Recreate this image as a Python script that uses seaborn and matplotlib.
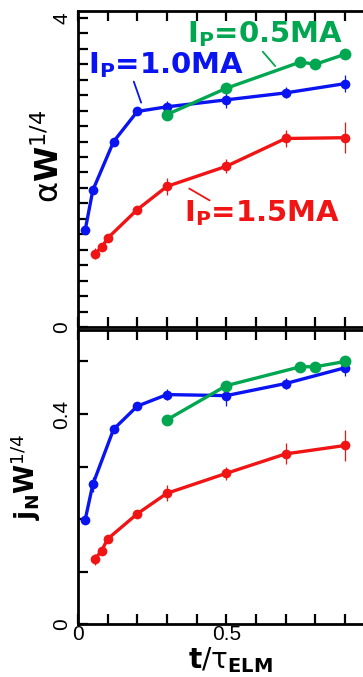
import numpy as np
import pandas as pd
import matplotlib
matplotlib.use("Agg")
import matplotlib.pyplot as plt
import seaborn as sns

# ---------------- data ----------------
t_blue = [0.024, 0.05, 0.12, 0.20, 0.30, 0.50, 0.70, 0.90]
t_red = [0.056, 0.08, 0.10, 0.20, 0.30, 0.50, 0.70, 0.90]
t_green = [0.30, 0.50, 0.75, 0.80, 0.90]

alpha_blue = [1.25, 1.77, 2.40, 2.79, 2.85, 2.94, 3.03, 3.15]
alpha_red = [0.95, 1.03, 1.15, 1.52, 1.82, 2.08, 2.44, 2.45]
alpha_green = [2.75, 3.09, 3.43, 3.40, 3.53]

alpha_blue_err = [0.05, 0.05, 0.05, 0.05, 0.07, 0.11, 0.07, 0.11]
alpha_red_err = [0.07, 0.03, 0.03, 0.04, 0.11, 0.09, 0.11, 0.20]
alpha_green_err = [0.03, 0.04, 0.06, 0.04, 0.03]

j_blue = [0.198, 0.266, 0.371, 0.415, 0.437, 0.435, 0.458, 0.488]
j_red = [0.123, 0.140, 0.162, 0.210, 0.249, 0.287, 0.324, 0.340]
j_green = [0.389, 0.454, 0.490, 0.490, 0.500]

j_blue_err = [0.005, 0.014, 0.008, 0.005, 0.010, 0.020, 0.010, 0.016]
j_red_err = [0.010, 0.005, 0.005, 0.005, 0.015, 0.012, 0.020, 0.029]
j_green_err = [0.004, 0.005, 0.008, 0.005, 0.005]

labels = ["$\\mathbf{I_P}$=1.0MA", "$\\mathbf{I_P}$=1.5MA", "$\\mathbf{I_P}$=0.5MA"]
colors = ["#0a14f0", "#f01414", "#00a650"]

x_ticks = [0.0, 0.1, 0.2, 0.3, 0.4, 0.5, 0.6, 0.7, 0.8, 0.9]
x_ticklabels = ["0", "", "", "", "", "0.5", "", "", "", ""]
top_yticks = [0.0, 0.2, 0.4, 0.6, 0.8, 1.0, 1.2, 1.4, 1.6, 1.8, 2.0, 2.2, 2.4,
              2.6, 2.8, 3.0, 3.2, 3.4, 3.6, 3.8, 4.0]
top_yticklabels = ["0"] + [""] * 19 + ["4"]
bot_yticks = [0.0, 0.1, 0.2, 0.3, 0.4, 0.5]
bot_yticklabels = ["0", "", "", "", "0.4", ""]

# ---------------- style ----------------
sns.set_theme(style="ticks")
plt.rcParams["font.family"] = ["DejaVu Sans"]
plt.rcParams["mathtext.fontset"] = "custom"
plt.rcParams["mathtext.rm"] = "DejaVu Sans"
plt.rcParams["mathtext.it"] = "DejaVu Sans:bold"
plt.rcParams["mathtext.bf"] = "DejaVu Sans:bold"
plt.rcParams["text.color"] = "black"
plt.rcParams["axes.labelcolor"] = "black"
plt.rcParams["xtick.color"] = "black"
plt.rcParams["ytick.color"] = "black"
plt.rcParams["axes.edgecolor"] = "black"

W, H = 363, 677
fig = plt.figure(figsize=(W / 100, H / 100), dpi=100)
ax1 = fig.add_axes([78 / W, 1 - 327 / H, 288 / W, 316 / H])
ax2 = fig.add_axes([78 / W, 1 - 624 / H, 288 / W, 294 / H])

frames = []
for name, t, a, j in [("1.0", t_blue, alpha_blue, j_blue),
                      ("1.5", t_red, alpha_red, j_red),
                      ("0.5", t_green, alpha_green, j_green)]:
    frames.append(pd.DataFrame({"t": t, "alpha": a, "j": j, "Ip": name}))
df = pd.concat(frames, ignore_index=True)
order = ["1.0", "1.5", "0.5"]
msizes = {"1.0": 7, "1.5": 7, "0.5": 8.5}
errs_a = {"1.0": alpha_blue_err, "1.5": alpha_red_err, "0.5": alpha_green_err}
errs_j = {"1.0": j_blue_err, "1.5": j_red_err, "0.5": j_green_err}

for ip, col in zip(order, colors):
    sub = df[df["Ip"] == ip]
    for ax, ycol, errs in [(ax1, "alpha", errs_a), (ax2, "j", errs_j)]:
        ax.errorbar(sub["t"], sub[ycol], yerr=errs[ip], fmt="none",
                    ecolor=col, elinewidth=0.9, capsize=0, zorder=2)
        sns.lineplot(data=sub, x="t", y=ycol, color=col, marker="o",
                     markersize=msizes[ip], markeredgewidth=0, linewidth=2.4,
                     ax=ax, legend=False, zorder=3)

tick_font = dict(family=["Liberation Sans", "DejaVu Sans"], size=15, color="black")
for ax in (ax1, ax2):
    ax.set_xlim(0, 0.971)
    ax.set_xticks(x_ticks)
    ax.tick_params(axis="both", which="both", direction="in", length=7,
                   width=1.6, top=True, right=False, pad=5)
    for s in ax.spines.values():
        s.set_linewidth(2.0)
        s.set_color("black")
    ax.set_xlabel("")

ax1.set_ylim(0, 4.09)
ax1.set_yticks(top_yticks)
ax1.set_yticklabels(top_yticklabels, rotation=90, va="center", **tick_font)
ax1.set_xticklabels([])
ax2.set_ylim(0, 0.56)
ax2.set_yticks(bot_yticks)
ax2.set_yticklabels(bot_yticklabels, rotation=90, va="center", **tick_font)
ax2.set_xticklabels(x_ticklabels, **tick_font)
ax2.tick_params(axis="x", pad=1)

ax1.set_ylabel(r"$\mathrm{\alpha}\mathbf{W}^{\mathrm{1/4}}$", fontsize=23)
ax1.yaxis.set_label_coords(-0.04, 0.54)
ax2.set_ylabel(r"$\mathbf{j_N W}^{\mathrm{1/4}}$", fontsize=19)
ax2.yaxis.set_label_coords(-0.12, 0.5)
ax2.set_xlabel(r"$\mathbf{t}\mathrm{/\tau}_{\mathbf{ELM}}$", fontsize=20)
ax2.xaxis.set_label_coords(0.53, -0.072)
ax2.xaxis.label.set_va("top")

# annotations
ann = [(labels[0], colors[0], (0.034, 3.39), (0.185, 3.21), (0.216, 2.87)),
       (labels[1], colors[1], (0.357, 1.48), (0.367, 1.81), (0.452, 1.62)),
       (labels[2], colors[2], (0.368, 3.79), (0.617, 3.59), (0.671, 3.35))]
for txt, col, tp, p0, p1 in ann:
    ax1.text(tp[0], tp[1], txt, color=col, fontsize=21, fontweight="bold",
             ha="left", va="center")
    ax1.annotate("", xy=p1, xytext=p0,
                 arrowprops=dict(arrowstyle="-", color=col, lw=1.3))

fig.savefig("out.png", dpi=100)
